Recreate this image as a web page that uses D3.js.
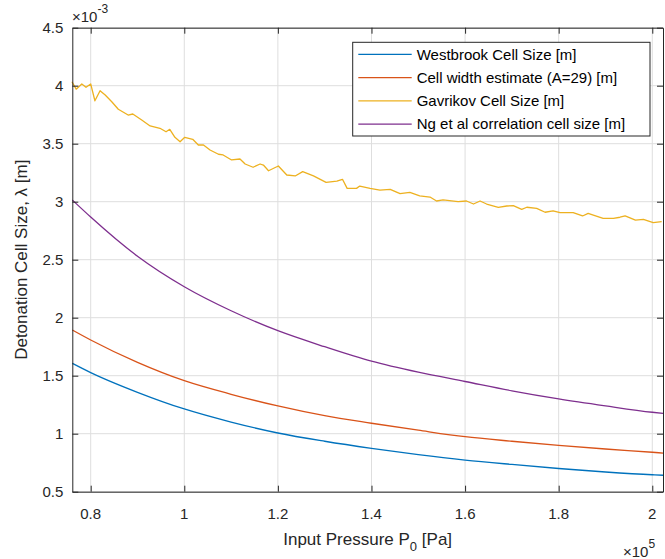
<!DOCTYPE html>
<html>
<head>
<meta charset="utf-8">
<script src="https://cdn.jsdelivr.net/npm/d3@7"></script>
<style>
  body { margin: 0; background: #fff; }
  svg { font-family: "Liberation Sans", Arial, Helvetica, sans-serif; }
  .grid line { stroke: #dedede; stroke-width: 1; }
  .tick-label { fill: #262626; font-size: 15px; }
</style>
</head>
<body>
<div id="chart"></div>
<script>
// pressure grid for the smooth curves [Pa]
const pressure = [0.7607e5, 0.8e5, 0.9e5, 1.0e5, 1.1e5, 1.2e5, 1.3e5, 1.4e5, 1.5e5, 1.6e5, 1.7e5, 1.8e5, 1.9e5, 2.0e5, 2.0229e5]

// cell sizes in units of 1e-3 m
const westbrook = [1.607, 1.527, 1.357, 1.213, 1.100, 1.006, 0.935, 0.874, 0.820, 0.773, 0.735, 0.700, 0.670, 0.646, 0.642]
const cellWidth = [1.894, 1.808, 1.615, 1.457, 1.340, 1.239, 1.155, 1.090, 1.030, 0.974, 0.935, 0.900, 0.868, 0.840, 0.833]
const ngEtAl = [3.015, 2.868, 2.530, 2.267, 2.060, 1.888, 1.750, 1.625, 1.530, 1.450, 1.370, 1.300, 1.240, 1.185, 1.175]

// Gavrikov is noisy, read on its own pressure points (x 1e5 Pa)
const gavP = [0.760,0.769,0.781,0.790,0.800,0.809,0.820,0.831,0.845,0.859,0.880,0.890,0.909,0.927,0.948,0.961,0.969,0.980,0.991,1.001,1.018,1.030,1.041,1.055,1.073,1.083,1.101,1.119,1.130,1.147,1.162,1.169,1.180,1.201,1.219,1.237,1.253,1.276,1.303,1.326,1.338,1.348,1.368,1.375,1.397,1.418,1.440,1.461,1.482,1.503,1.525,1.539,1.553,1.585,1.603,1.618,1.632,1.646,1.671,1.689,1.703,1.721,1.732,1.753,1.771,1.788,1.803,1.831,1.851,1.863,1.874,1.895,1.917,1.931,1.942,1.964,1.981,2.002,2.020]
const gavrikov = [4.034,3.970,4.015,3.986,4.015,3.870,3.957,3.920,3.862,3.797,3.747,3.756,3.704,3.653,3.633,3.603,3.624,3.555,3.517,3.555,3.538,3.489,3.489,3.446,3.409,3.403,3.360,3.368,3.325,3.297,3.325,3.316,3.267,3.308,3.230,3.222,3.259,3.222,3.167,3.178,3.193,3.115,3.115,3.135,3.115,3.100,3.107,3.070,3.080,3.050,3.040,3.006,3.015,3.000,3.006,2.980,3.006,2.980,2.952,2.963,2.966,2.934,2.952,2.943,2.909,2.920,2.905,2.905,2.877,2.900,2.885,2.857,2.857,2.866,2.877,2.842,2.848,2.819,2.828]

const xTicks = [0.8e5, 1.0e5, 1.2e5, 1.4e5, 1.6e5, 1.8e5, 2.0e5]
const xTickLabels = ['0.8', '1', '1.2', '1.4', '1.6', '1.8', '2']
const yTicks = [0.5, 1, 1.5, 2, 2.5, 3, 3.5, 4, 4.5]
const yTickLabels = ['0.5', '1', '1.5', '2', '2.5', '3', '3.5', '4', '4.5']

const seriesNames = ['Westbrook Cell Size [m]', 'Cell width estimate (A=29) [m]', 'Gavrikov Cell Size [m]', 'Ng et al correlation cell size [m]']
const colors = ['#0072BD', '#D95319', '#EDB120', '#7E2F8E']

let W = 665, H = 559
let margin = {left: 72.3, top: 27.7, right: 2, bottom: 67.3}
let iw = W - margin.left - margin.right
let ih = H - margin.top - margin.bottom

let svg = d3.select('#chart').append('svg')
  .attr('width', W)
  .attr('height', H)

let x = d3.scaleLinear().domain([0.7607e5, 2.0229e5]).range([0, iw])
let y = d3.scaleLinear().domain([0.5, 4.5]).range([ih, 0])

let g = svg.append('g').attr('transform', `translate(${margin.left},${margin.top})`)

// grid
let grid = g.append('g').attr('class', 'grid')
grid.selectAll('.gx').data(xTicks).enter().append('line')
  .attr('x1', d => x(d)).attr('x2', d => x(d)).attr('y1', 0).attr('y2', ih)
grid.selectAll('.gy').data(yTicks).enter().append('line')
  .attr('x1', 0).attr('x2', iw).attr('y1', d => y(d)).attr('y2', d => y(d))

// lines
let smooth = [westbrook, cellWidth, null, ngEtAl]
let lineSmooth = d3.line().x(d => x(d[0])).y(d => y(d[1])).curve(d3.curveMonotoneX)
let lineRaw = d3.line().x(d => x(d[0])).y(d => y(d[1]))

let plot = g.append('g')
smooth.forEach((s, i) => {
  if (!s) return
  plot.append('path')
    .datum(pressure.map((p, j) => [p, s[j]]))
    .attr('d', lineSmooth)
    .attr('fill', 'none')
    .attr('stroke', colors[i])
    .attr('stroke-width', 1.3)
})
plot.append('path')
  .datum(gavP.map((p, j) => [p * 1e5, gavrikov[j]]))
  .attr('d', lineRaw)
  .attr('fill', 'none')
  .attr('stroke', colors[2])
  .attr('stroke-width', 1.3)
  .attr('stroke-linejoin', 'round')

// axes, MATLAB style: inward ticks on all four sides
let tickLen = 6
let axBottom = d3.axisBottom(x).tickValues(xTicks).tickSizeInner(-tickLen).tickSizeOuter(0).tickFormat('')
let axTop = d3.axisTop(x).tickValues(xTicks).tickSizeInner(-tickLen).tickSizeOuter(0).tickFormat('')
let axLeft = d3.axisLeft(y).tickValues(yTicks).tickSizeInner(-tickLen).tickSizeOuter(0).tickFormat('')
let axRight = d3.axisRight(y).tickValues(yTicks).tickSizeInner(-tickLen).tickSizeOuter(0).tickFormat('')

g.append('g').attr('transform', `translate(0,${ih})`).call(axBottom)
g.append('g').call(axTop)
g.append('g').call(axLeft)
g.append('g').attr('transform', `translate(${iw},0)`).call(axRight)
g.selectAll('.domain').attr('stroke', '#262626').attr('stroke-width', 1)
g.selectAll('.tick line').attr('stroke', '#262626')

// tick labels
g.selectAll('.xl').data(xTicks).enter().append('text')
  .attr('class', 'tick-label')
  .attr('x', d => x(d)).attr('y', ih + 27)
  .attr('text-anchor', 'middle')
  .text((d, i) => xTickLabels[i])
g.selectAll('.yl').data(yTicks).enter().append('text')
  .attr('class', 'tick-label')
  .attr('x', -9).attr('y', d => y(d) + 5.5)
  .attr('text-anchor', 'end')
  .text((d, i) => yTickLabels[i])

// exponent labels
let expTop = svg.append('text').attr('fill', '#262626').attr('x', 72).attr('y', 22)
expTop.append('tspan').attr('font-size', '15px').text('×10')
expTop.append('tspan').attr('font-size', '12px').attr('dy', -9).text('-3')

let expBot = svg.append('text').attr('fill', '#262626').attr('x', 623).attr('y', 557)
expBot.append('tspan').attr('font-size', '15px').text('×10')
expBot.append('tspan').attr('font-size', '12px').attr('dy', -9).text('5')

// axis titles
let xt = svg.append('text').attr('fill', '#262626').attr('font-size', '17px')
  .attr('x', margin.left + iw / 2).attr('y', 545).attr('text-anchor', 'middle')
xt.append('tspan').text('Input Pressure P')
xt.append('tspan').attr('font-size', '13px').attr('dy', 6).text('0')
xt.append('tspan').attr('dy', -6).text(' [Pa]')

svg.append('text').attr('fill', '#262626').attr('font-size', '17px')
  .attr('transform', `translate(27,${margin.top + ih / 2}) rotate(-90)`)
  .attr('text-anchor', 'middle')
  .text('Detonation Cell Size, λ [m]')

// legend
let lg = svg.append('g').attr('transform', 'translate(352.7,42.3)')
lg.append('rect')
  .attr('width', 297.3).attr('height', 93.7)
  .attr('fill', '#fff').attr('stroke', '#262626').attr('stroke-width', 1)
seriesNames.forEach((name, i) => {
  let cy = 12 + i * 23.3
  lg.append('line').attr('x1', 5.6).attr('x2', 59).attr('y1', cy).attr('y2', cy)
    .attr('stroke', colors[i]).attr('stroke-width', 1.3)
  lg.append('text').attr('x', 64).attr('y', cy + 5.3)
    .attr('font-size', '15px').attr('fill', '#000')
    .text(name)
})
</script>
</body>
</html>
